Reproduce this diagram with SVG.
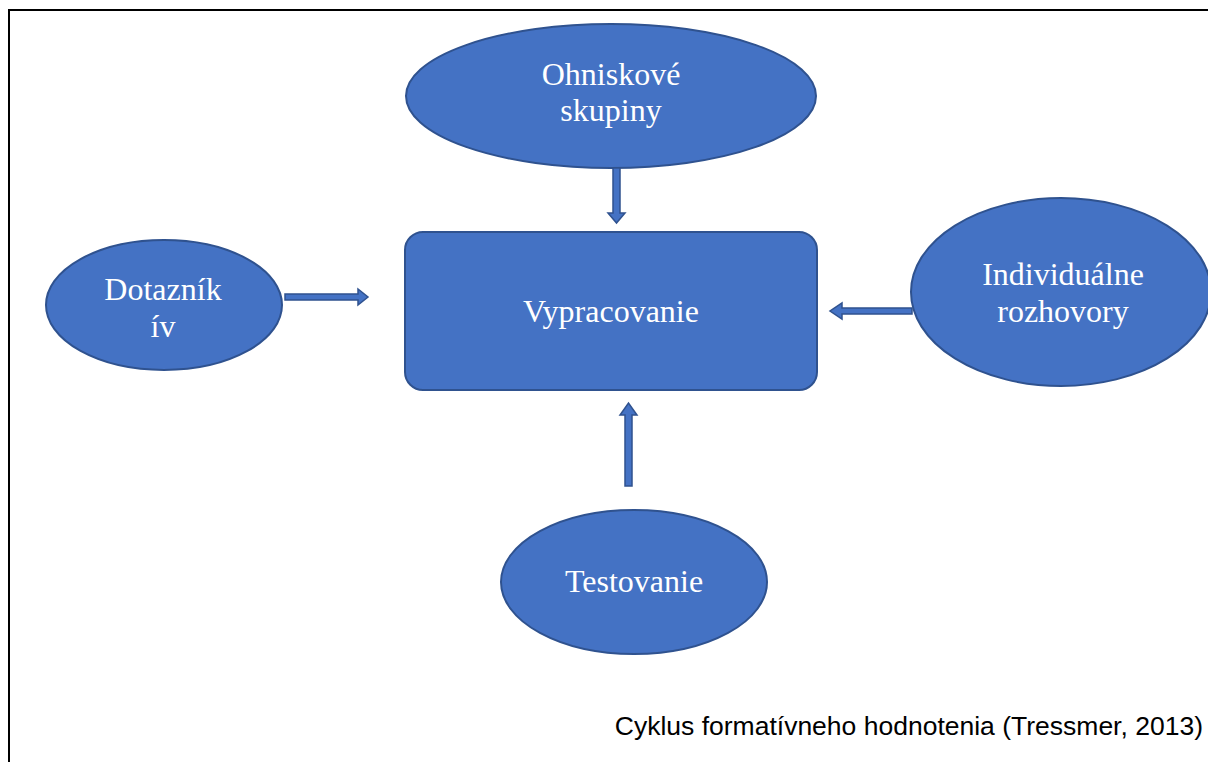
<svg xmlns="http://www.w3.org/2000/svg" width="1208" height="762" viewBox="0 0 1208 762">
<style>
.node{fill:#4472c4;stroke:#2f528f;stroke-width:2}
.lbl{font-family:"Liberation Serif","Times New Roman",serif;font-size:32px;fill:#ffffff;text-anchor:middle}
.arr{fill:#4472c4;stroke:#2f528f;stroke-width:1.5}
.cap{font-family:"Liberation Sans",Arial,sans-serif;font-size:26.5px;fill:#000000}
</style>
<rect width="1208" height="762" fill="#ffffff"/>
<path d="M9,762 V10 H1208" fill="none" stroke="#000000" stroke-width="2"/>
<g id="ohniskove">
<ellipse class="node" cx="611" cy="96" rx="205" ry="72"/>
<text class="lbl" x="611" y="85">Ohniskové</text>
<text class="lbl" x="611" y="121">skupiny</text>
</g>
<g id="vypracovanie">
<rect class="node" x="405" y="232" width="412" height="158" rx="18"/>
<text class="lbl" x="611" y="322">Vypracovanie</text>
</g>
<g id="dotaznik">
<ellipse class="node" cx="164" cy="305" rx="118" ry="65"/>
<text class="lbl" x="163" y="300">Dotazník</text>
<text class="lbl" x="163" y="337">ív</text>
</g>
<g id="individualne">
<ellipse class="node" cx="1061" cy="292" rx="150" ry="94"/>
<text class="lbl" x="1063" y="285">Individuálne</text>
<text class="lbl" x="1063" y="322">rozhovory</text>
</g>
<g id="testovanie">
<ellipse class="node" cx="634" cy="582" rx="133" ry="72"/>
<text class="lbl" x="634" y="592">Testovanie</text>
</g>
<g id="connectors">
<path class="arr" d="M613,168 H620 V213 H625 L616.5,223 L608,213 H613 Z"/>
<path class="arr" d="M285,294 H358 V289 L368,297 L358,305 V300 H285 Z"/>
<path class="arr" d="M912,308 H842 V303 L830,311 L842,319 V314 H912 Z"/>
<path class="arr" d="M625,486 V415 H620 L628.5,403 L637,415 H632 V486 Z"/>
</g>
<text class="cap" x="1203" y="735" text-anchor="end">Cyklus formatívneho hodnotenia (Tressmer, 2013)</text>
</svg>
